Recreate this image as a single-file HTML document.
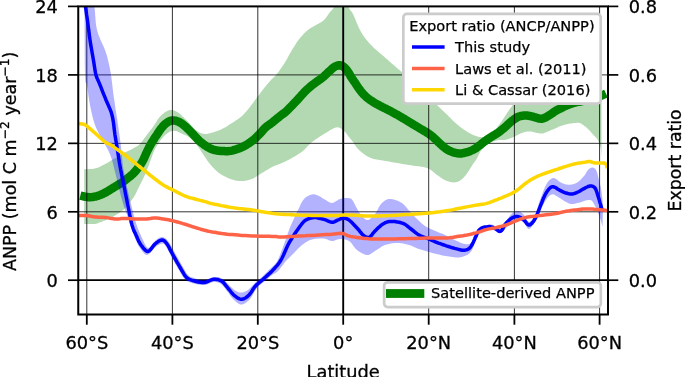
<!DOCTYPE html>
<html><head><meta charset="utf-8"><title>ANPP and export ratio by latitude</title>
<style>html,body{margin:0;padding:0;background:#fff;overflow:hidden}body{width:685px;height:377px;position:relative}</style></head>
<body>
<svg width="685" height="377" viewBox="0 0 685 377" style="display:block;position:absolute;left:0;top:0">
<defs><clipPath id="c"><rect x="78.25" y="6.4" width="529.75" height="308.1"/></clipPath></defs>
<rect width="685" height="377" fill="#fff"/>
<g clip-path="url(#c)">
<polygon points="84.2,169.3 85.8,169.2 87.4,169.2 89.1,169.1 90.7,169.1 92.1,169.0 93.5,168.8 94.7,168.6 95.7,168.3 96.7,168.1 97.6,167.7 98.5,167.4 99.4,167.0 100.4,166.6 101.3,166.1 102.3,165.6 103.3,165.1 104.2,164.5 105.2,164.0 106.2,163.5 107.1,162.9 108.0,162.4 109.0,161.8 110.0,161.2 111.0,160.6 112.1,160.0 113.2,159.3 114.4,158.6 115.6,157.9 116.8,157.2 118.0,156.5 119.2,155.8 120.3,155.2 121.4,154.5 122.6,153.8 123.8,153.2 125.0,152.5 126.3,151.8 127.6,151.2 129.0,150.5 130.4,149.9 131.7,149.2 133.0,148.5 134.2,147.8 135.3,147.2 136.5,146.6 137.6,145.9 138.7,145.0 139.8,144.0 141.0,142.8 142.1,141.3 143.3,139.8 144.5,138.1 145.7,136.5 146.8,135.0 147.9,133.5 149.1,132.1 150.2,130.6 151.3,129.2 152.4,127.8 153.4,126.3 154.4,124.8 155.4,123.2 156.4,121.7 157.3,120.2 158.2,118.8 159.2,117.5 160.2,116.4 161.1,115.4 162.1,114.5 163.1,113.7 164.0,113.0 165.0,112.3 166.0,111.7 167.0,111.1 167.9,110.7 168.9,110.3 169.9,110.0 170.9,109.9 171.9,109.9 172.8,110.1 173.8,110.4 174.8,110.7 175.7,111.2 176.7,111.7 177.7,112.3 178.7,113.0 179.7,113.8 180.6,114.6 181.6,115.5 182.6,116.4 183.6,117.3 184.5,118.2 185.5,119.2 186.5,120.2 187.4,121.2 188.4,122.2 189.4,123.3 190.3,124.4 191.3,125.5 192.3,126.6 193.2,127.7 194.2,128.6 195.2,129.4 196.2,130.2 197.2,131.0 198.1,131.6 199.1,132.2 200.0,132.7 200.8,133.1 201.6,133.4 202.4,133.6 203.1,133.7 203.9,133.8 204.7,133.9 205.5,133.9 206.2,134.0 206.9,133.9 207.7,133.8 208.7,133.6 210.0,133.3 211.6,132.8 213.6,132.2 215.7,131.5 217.9,130.7 220.0,129.9 222.0,129.0 223.8,128.1 225.5,127.2 227.1,126.2 228.7,125.1 230.4,124.1 232.0,123.0 233.7,121.9 235.4,120.8 237.1,119.7 238.8,118.5 240.4,117.3 242.0,116.0 243.5,114.6 244.9,113.1 246.2,111.6 247.5,110.0 248.7,108.5 250.0,106.9 251.2,105.3 252.4,103.8 253.6,102.2 254.7,100.6 255.8,99.1 257.0,97.5 258.2,95.9 259.3,94.4 260.5,92.8 261.7,91.2 262.8,89.7 264.0,88.2 265.2,86.7 266.4,85.3 267.6,83.8 268.8,82.5 269.9,81.2 271.0,80.0 271.9,79.1 272.7,78.3 273.4,77.7 274.2,77.0 275.0,76.1 276.0,75.0 277.2,73.5 278.4,71.9 279.8,70.1 281.2,68.1 282.6,66.1 284.0,64.0 285.3,61.8 286.7,59.5 288.0,57.1 289.3,54.6 290.7,52.3 292.0,50.0 293.3,47.8 294.7,45.7 296.0,43.6 297.3,41.6 298.7,39.7 300.0,38.0 301.3,36.4 302.7,34.9 304.0,33.6 305.3,32.3 306.7,31.1 308.0,30.0 309.3,29.0 310.7,28.1 312.0,27.3 313.3,26.6 314.7,25.8 316.0,25.0 317.4,24.2 318.7,23.4 320.1,22.7 321.5,21.9 322.8,21.0 324.0,20.0 325.1,18.8 326.2,17.4 327.2,16.0 328.2,14.6 329.1,13.2 330.0,12.0 330.8,11.1 331.5,10.4 332.1,9.8 332.7,9.1 333.4,8.2 334.0,7.0 334.7,5.3 335.3,3.2 335.9,0.9 336.6,-1.4 337.3,-3.4 338.0,-5.0 338.8,-6.1 339.6,-7.0 340.5,-7.6 341.4,-8.0 342.2,-8.1 343.0,-8.0 343.7,-7.6 344.5,-6.8 345.2,-5.8 345.9,-4.6 346.5,-3.3 347.0,-2.0 347.4,-0.5 347.7,1.2 348.0,3.0 348.3,4.8 348.6,6.5 349.0,8.0 349.5,9.1 350.1,10.0 350.8,10.8 351.4,11.6 352.2,12.6 353.0,14.0 353.9,15.9 354.9,18.2 355.9,20.8 356.9,23.3 358.0,25.8 359.0,28.0 360.0,29.9 360.9,31.7 361.9,33.3 362.9,34.9 363.9,36.4 365.0,38.0 366.2,39.6 367.5,41.1 368.9,42.7 370.3,44.2 371.6,45.6 373.0,47.0 374.3,48.3 375.7,49.5 377.0,50.6 378.3,51.7 379.7,52.9 381.0,54.0 382.3,55.2 383.7,56.3 385.0,57.5 386.3,58.7 387.7,59.8 389.0,61.0 390.4,62.2 391.7,63.4 393.1,64.6 394.5,65.8 395.8,66.9 397.0,68.0 398.0,68.9 398.9,69.6 399.8,70.2 400.6,70.9 401.7,71.8 403.0,73.0 404.7,74.6 406.6,76.6 408.6,78.7 410.8,80.9 412.9,83.0 415.0,85.0 417.0,86.8 419.1,88.5 421.1,90.1 423.1,91.7 425.1,93.4 427.0,95.0 428.8,96.7 430.5,98.3 432.1,100.0 433.7,101.7 435.3,103.3 437.0,105.0 438.7,106.7 440.6,108.4 442.4,110.2 444.2,111.9 445.9,113.5 447.4,115.0 448.8,116.4 450.0,117.6 451.1,118.8 452.2,119.9 453.3,120.9 454.4,122.0 455.6,123.0 456.7,124.1 457.9,125.0 459.1,126.0 460.2,126.9 461.4,127.8 462.6,128.7 463.7,129.5 464.9,130.3 466.1,131.1 467.2,131.8 468.4,132.5 469.6,133.2 470.8,133.8 472.0,134.4 473.2,134.9 474.4,135.4 475.4,135.8 476.3,136.1 477.1,136.4 477.8,136.6 478.5,136.8 479.2,136.9 480.0,137.0 480.9,137.1 481.9,137.2 482.9,137.3 483.9,137.3 485.0,137.2 486.0,137.0 487.0,136.7 488.0,136.2 489.0,135.7 490.0,135.0 491.0,134.3 492.0,133.5 492.9,132.6 493.9,131.6 494.8,130.5 495.7,129.3 496.6,128.1 497.5,126.9 498.5,125.6 499.5,124.2 500.5,122.8 501.5,121.4 502.5,120.0 503.4,118.7 504.2,117.5 505.0,116.3 505.8,115.1 506.5,113.9 507.2,112.8 508.0,111.7 508.8,110.6 509.6,109.4 510.4,108.3 511.2,107.3 512.0,106.2 512.7,105.3 513.2,104.5 513.5,103.8 513.8,103.1 514.2,102.5 514.8,101.8 516.0,101.0 517.5,100.1 519.3,99.3 521.3,98.4 523.8,97.4 526.6,96.3 530.0,95.0 533.9,93.6 538.4,92.0 543.3,90.2 548.6,88.5 554.1,86.7 560.0,85.0 566.3,83.3 573.0,81.7 580.0,80.0 587.2,78.3 594.5,76.7 601.5,75.0 601.5,158.0 601.4,156.6 601.4,155.3 601.3,153.9 601.2,152.5 601.1,151.2 601.0,150.0 600.8,148.9 600.6,147.8 600.4,146.8 600.1,145.9 599.8,144.9 599.5,144.0 599.2,143.1 598.8,142.2 598.5,141.4 598.1,140.5 597.7,139.7 597.2,139.0 596.7,138.3 596.2,137.7 595.6,137.2 595.0,136.6 594.4,136.0 593.7,135.3 593.0,134.5 592.2,133.6 591.4,132.7 590.6,131.7 589.8,130.8 589.0,130.0 588.2,129.2 587.5,128.5 586.7,127.8 585.9,127.1 585.2,126.5 584.4,125.9 583.6,125.3 582.8,124.7 582.1,124.2 581.3,123.7 580.5,123.3 579.7,123.0 578.9,122.8 578.2,122.7 577.5,122.8 576.7,122.8 575.9,122.9 575.0,123.0 574.0,123.1 572.8,123.2 571.6,123.4 570.4,123.6 569.2,123.8 568.0,124.0 566.8,124.3 565.7,124.5 564.5,124.8 563.3,125.2 562.2,125.5 561.0,125.9 559.8,126.3 558.6,126.8 557.5,127.4 556.3,127.9 555.1,128.4 554.0,128.9 552.9,129.4 551.8,129.8 550.8,130.3 549.7,130.8 548.7,131.2 547.7,131.6 546.7,132.0 545.7,132.4 544.8,132.8 543.8,133.2 542.9,133.4 541.9,133.6 540.9,133.6 539.9,133.5 539.0,133.3 538.0,133.1 537.0,132.9 536.0,132.7 535.0,132.5 534.1,132.3 533.1,132.0 532.1,131.8 531.2,131.6 530.2,131.5 529.2,131.5 528.3,131.5 527.3,131.6 526.3,131.7 525.4,131.9 524.4,132.1 523.4,132.4 522.4,132.7 521.5,133.2 520.5,133.6 519.5,134.1 518.5,134.5 517.5,135.0 516.6,135.5 515.7,136.0 514.7,136.5 513.7,136.9 512.7,137.4 511.6,137.8 510.5,138.3 509.4,138.7 508.2,139.1 506.9,139.4 505.7,139.7 504.4,139.9 503.0,140.0 501.6,140.0 500.2,140.0 498.8,140.1 497.5,140.3 496.3,140.6 495.2,140.9 494.1,141.2 493.0,141.6 492.0,142.1 491.0,142.5 490.1,142.9 489.2,143.4 488.3,143.9 487.5,144.4 486.7,145.0 486.0,145.5 485.3,146.0 484.7,146.6 484.0,147.2 483.5,147.7 482.9,148.3 482.4,148.9 481.9,149.4 481.5,149.9 481.2,150.4 480.8,151.0 480.4,151.6 480.0,152.4 479.5,153.3 478.9,154.4 478.4,155.6 477.8,156.8 477.2,158.0 476.6,159.0 476.1,159.8 475.6,160.5 475.1,161.2 474.5,161.9 473.9,162.8 473.0,164.0 471.9,165.7 470.7,167.7 469.3,169.9 467.8,172.2 466.4,174.3 465.0,176.0 463.7,177.4 462.4,178.7 461.1,179.8 459.8,180.7 458.4,181.5 457.0,182.0 455.4,182.3 453.8,182.4 452.1,182.2 450.4,182.0 448.7,181.5 447.0,181.0 445.3,180.3 443.7,179.4 442.0,178.4 440.3,177.3 438.7,176.1 437.0,175.0 435.4,173.8 434.0,172.6 432.5,171.3 430.9,170.1 429.1,168.9 427.0,168.0 424.5,167.3 421.7,166.7 418.6,166.3 415.4,165.9 412.2,165.5 409.0,165.0 405.8,164.5 402.4,163.9 399.0,163.3 395.6,162.8 392.2,162.2 389.0,161.6 385.8,161.1 382.6,160.6 379.5,160.1 376.5,159.5 373.6,158.9 371.0,158.0 368.6,156.9 366.3,155.7 364.2,154.3 362.3,152.8 360.6,151.4 359.0,150.0 357.6,148.6 356.5,147.2 355.5,145.8 354.6,144.4 353.8,143.2 353.0,142.0 352.2,141.0 351.6,140.2 351.0,139.4 350.4,138.7 349.8,137.9 349.0,137.0 348.1,135.9 347.2,134.7 346.2,133.3 345.1,132.1 344.1,130.9 343.0,130.0 341.9,129.2 340.9,128.5 339.9,127.9 338.7,127.4 337.5,127.3 336.0,127.4 334.3,128.0 332.4,128.9 330.3,130.0 328.2,131.4 326.1,132.7 324.0,134.0 322.0,135.3 319.9,136.6 317.8,137.9 315.7,139.3 313.8,140.7 312.0,142.0 310.4,143.4 308.9,144.9 307.5,146.3 306.2,147.7 305.1,149.0 304.0,150.0 303.1,150.8 302.5,151.3 302.0,151.7 301.5,152.0 300.9,152.4 300.0,153.0 298.9,153.7 297.7,154.5 296.4,155.4 295.0,156.3 293.5,157.1 292.0,158.0 290.4,158.8 288.8,159.7 287.1,160.6 285.4,161.4 283.7,162.2 282.0,163.0 280.3,163.7 278.7,164.3 277.0,164.9 275.3,165.6 273.7,166.2 272.0,167.0 270.3,167.9 268.7,168.9 267.0,169.9 265.3,170.9 263.7,172.0 262.0,173.0 260.3,174.0 258.7,175.1 257.0,176.2 255.3,177.3 253.7,178.2 252.0,179.0 250.3,179.6 248.7,180.1 247.0,180.5 245.3,180.7 243.7,180.9 242.0,181.0 240.3,181.0 238.7,180.9 237.0,180.7 235.3,180.4 233.7,180.1 232.0,179.6 230.3,179.0 228.5,178.3 226.8,177.5 225.0,176.6 223.4,175.8 222.0,175.0 220.8,174.3 219.7,173.6 218.8,172.9 217.9,172.1 217.0,171.4 216.0,170.5 215.0,169.6 214.0,168.6 213.0,167.6 212.0,166.5 211.0,165.3 209.9,164.0 208.8,162.5 207.6,160.9 206.5,159.2 205.3,157.4 204.1,155.7 203.0,154.0 201.9,152.4 200.8,150.7 199.7,149.0 198.6,147.4 197.5,145.9 196.4,144.5 195.3,143.2 194.2,142.0 193.0,140.8 191.9,139.8 190.9,138.8 190.0,138.0 189.2,137.3 188.5,136.9 187.9,136.5 187.3,136.1 186.7,135.8 186.0,135.5 185.3,135.1 184.5,134.8 183.7,134.5 183.0,134.2 182.2,133.8 181.4,133.5 180.6,133.1 179.8,132.7 179.1,132.3 178.3,131.9 177.5,131.6 176.7,131.3 175.9,131.1 175.1,130.9 174.3,130.8 173.6,130.8 172.8,130.8 172.0,130.9 171.2,131.1 170.5,131.4 169.7,131.8 168.9,132.3 168.2,132.8 167.4,133.3 166.6,133.9 165.8,134.4 165.1,135.1 164.3,135.8 163.5,136.6 162.7,137.4 161.9,138.4 161.1,139.4 160.3,140.6 159.5,141.8 158.7,142.9 158.0,144.0 157.4,145.0 156.8,145.9 156.2,146.8 155.6,147.7 155.1,148.8 154.5,150.0 153.9,151.4 153.2,153.1 152.6,154.8 152.0,156.6 151.3,158.3 150.7,160.0 150.1,161.6 149.5,163.2 148.9,164.8 148.4,166.3 147.8,167.8 147.2,169.3 146.6,170.7 146.1,172.1 145.5,173.4 145.0,174.7 144.4,176.1 143.7,177.5 143.0,179.0 142.2,180.5 141.4,182.1 140.6,183.7 139.8,185.3 139.0,186.9 138.2,188.5 137.5,190.1 136.8,191.6 136.0,193.2 135.2,194.7 134.4,196.2 133.5,197.6 132.5,199.0 131.4,200.4 130.4,201.7 129.5,202.9 128.6,204.0 127.9,204.9 127.3,205.8 126.8,206.5 126.2,207.2 125.7,207.8 125.0,208.5 124.2,209.2 123.4,209.8 122.6,210.5 121.7,211.1 120.8,211.7 120.0,212.3 119.2,212.9 118.3,213.4 117.5,214.0 116.7,214.5 115.8,215.0 115.0,215.5 114.2,216.0 113.3,216.5 112.5,217.0 111.7,217.4 110.8,217.9 110.0,218.3 109.2,218.7 108.3,219.1 107.5,219.5 106.7,219.8 105.8,220.2 105.0,220.5 104.2,220.8 103.3,221.1 102.5,221.4 101.7,221.7 100.8,222.0 100.0,222.3 99.2,222.6 98.5,222.9 97.9,223.3 97.1,223.6 96.2,223.8 95.0,224.0 93.5,224.1 91.8,224.1 90.0,224.1 88.0,224.1 86.1,224.0 84.2,224.0" fill="#008000" fill-opacity="0.3"/>
<line x1="78.25" x2="608.0" y1="6.4" y2="6.4" stroke="#000" stroke-width="0.8"/>
<line x1="78.25" x2="608.0" y1="74.9" y2="74.9" stroke="#000" stroke-width="0.8"/>
<line x1="78.25" x2="608.0" y1="143.35" y2="143.35" stroke="#000" stroke-width="0.8"/>
<line x1="78.25" x2="608.0" y1="211.8" y2="211.8" stroke="#000" stroke-width="0.8"/>
<polyline points="80.3,195.6 81.6,195.9 82.8,196.2 84.1,196.5 85.4,196.7 86.6,196.9 87.7,197.1 88.8,197.2 89.7,197.2 90.7,197.2 91.6,197.1 92.5,197.0 93.5,196.9 94.5,196.7 95.5,196.5 96.4,196.3 97.4,196.0 98.4,195.6 99.4,195.3 100.4,194.9 101.3,194.5 102.3,194.1 103.3,193.6 104.2,193.1 105.2,192.6 106.2,192.1 107.1,191.5 108.1,191.0 109.1,190.4 110.0,189.8 111.0,189.2 112.0,188.6 113.0,188.0 113.9,187.4 114.9,186.8 115.9,186.2 116.9,185.6 117.9,185.0 118.8,184.4 119.8,183.9 120.8,183.3 121.7,182.7 122.7,182.0 123.7,181.3 124.7,180.6 125.7,179.8 126.6,179.1 127.6,178.3 128.6,177.5 129.6,176.7 130.6,175.9 131.5,175.0 132.5,174.2 133.5,173.2 134.4,172.3 135.3,171.3 136.2,170.2 137.1,169.1 138.0,168.0 138.8,166.9 139.6,165.8 140.3,164.8 140.9,163.9 141.5,163.1 142.0,162.1 142.6,161.1 143.2,160.0 143.9,158.7 144.5,157.2 145.2,155.6 145.9,154.0 146.6,152.5 147.3,151.0 147.9,149.7 148.6,148.4 149.2,147.2 149.8,146.0 150.5,144.8 151.2,143.5 152.0,142.2 152.8,140.9 153.7,139.6 154.5,138.2 155.4,136.9 156.3,135.6 157.2,134.3 158.0,133.0 158.9,131.6 159.8,130.3 160.6,129.1 161.5,128.0 162.4,127.0 163.2,126.0 164.1,125.1 165.0,124.2 165.9,123.5 166.8,122.8 167.7,122.2 168.7,121.6 169.6,121.2 170.6,120.8 171.6,120.5 172.6,120.4 173.7,120.4 174.8,120.6 175.9,120.8 177.0,121.2 178.1,121.6 179.1,122.0 180.0,122.5 180.9,123.0 181.8,123.6 182.6,124.2 183.4,124.9 184.3,125.6 185.2,126.3 186.1,127.1 186.9,128.0 187.8,128.8 188.7,129.7 189.6,130.6 190.5,131.5 191.4,132.5 192.3,133.4 193.2,134.4 194.1,135.4 195.0,136.3 195.8,137.2 196.6,138.1 197.4,138.9 198.2,139.8 199.0,140.6 200.0,141.5 201.1,142.4 202.4,143.4 203.7,144.4 205.0,145.4 206.3,146.2 207.5,147.0 208.6,147.6 209.6,148.2 210.6,148.6 211.5,149.0 212.4,149.4 213.4,149.7 214.3,150.0 215.2,150.2 216.1,150.4 217.0,150.6 218.0,150.7 219.2,150.8 220.6,150.9 222.3,151.0 224.0,151.1 225.8,151.2 227.5,151.2 229.1,151.1 230.5,150.9 231.9,150.6 233.1,150.3 234.4,149.9 235.6,149.6 236.7,149.2 237.8,148.9 238.8,148.5 239.8,148.1 240.7,147.8 241.6,147.3 242.6,146.9 243.6,146.4 244.5,145.9 245.5,145.4 246.5,144.8 247.4,144.2 248.4,143.6 249.4,142.9 250.3,142.3 251.3,141.6 252.3,140.8 253.2,140.0 254.2,139.2 255.2,138.3 256.2,137.4 257.2,136.4 258.1,135.4 259.1,134.4 260.1,133.4 261.1,132.4 262.1,131.3 263.0,130.2 264.0,129.1 265.0,128.1 265.9,127.2 266.8,126.4 267.6,125.8 268.5,125.2 269.3,124.6 270.3,124.0 271.3,123.2 272.5,122.3 273.8,121.2 275.2,120.1 276.5,119.0 277.9,117.8 279.2,116.8 280.4,115.8 281.6,114.9 282.8,114.0 283.9,113.2 285.1,112.3 286.2,111.3 287.3,110.3 288.4,109.2 289.5,108.1 290.6,107.0 291.6,105.9 292.6,104.9 293.5,103.9 294.4,103.0 295.3,102.1 296.1,101.2 297.0,100.3 297.9,99.3 298.9,98.2 299.9,97.1 300.9,96.0 301.9,94.8 303.0,93.7 304.0,92.6 305.0,91.6 306.0,90.6 307.0,89.6 308.0,88.7 309.0,87.8 310.0,86.9 311.0,86.1 312.0,85.2 313.0,84.5 314.0,83.7 315.0,83.0 316.0,82.2 317.0,81.5 318.1,80.7 319.1,80.0 320.2,79.3 321.2,78.6 322.2,77.8 323.2,77.0 324.2,76.1 325.2,75.2 326.1,74.3 327.1,73.4 328.0,72.5 328.9,71.6 329.9,70.8 330.8,69.9 331.7,69.1 332.5,68.3 333.3,67.7 334.0,67.2 334.6,66.8 335.2,66.5 335.7,66.2 336.3,66.0 336.8,65.8 337.3,65.6 337.8,65.5 338.3,65.3 338.8,65.3 339.3,65.2 339.9,65.3 340.5,65.4 341.1,65.6 341.8,65.8 342.5,66.1 343.1,66.4 343.8,66.9 344.5,67.5 345.2,68.2 345.9,69.0 346.6,69.8 347.2,70.7 347.9,71.6 348.5,72.5 349.1,73.5 349.7,74.5 350.3,75.6 350.8,76.6 351.4,77.5 352.0,78.4 352.6,79.2 353.2,80.0 353.7,80.9 354.3,81.7 354.9,82.5 355.4,83.3 356.0,84.2 356.5,85.0 357.0,85.8 357.6,86.7 358.2,87.6 358.9,88.5 359.6,89.5 360.4,90.6 361.2,91.6 362.0,92.6 362.8,93.5 363.6,94.4 364.5,95.3 365.3,96.1 366.2,96.9 367.1,97.7 368.1,98.5 369.1,99.3 370.1,100.0 371.2,100.7 372.3,101.4 373.4,102.1 374.5,102.8 375.6,103.5 376.8,104.1 378.0,104.7 379.1,105.4 380.3,106.0 381.5,106.6 382.7,107.2 383.8,107.8 385.0,108.3 386.2,108.9 387.3,109.5 388.5,110.1 389.7,110.7 390.9,111.3 392.0,112.0 393.2,112.6 394.4,113.3 395.5,113.9 396.6,114.5 397.7,115.1 398.8,115.7 399.8,116.3 400.9,117.0 402.0,117.6 403.1,118.3 404.3,118.9 405.4,119.6 406.6,120.3 407.8,121.1 409.0,121.8 410.3,122.6 411.6,123.4 413.0,124.3 414.4,125.1 415.7,125.9 417.0,126.7 418.2,127.4 419.4,128.1 420.6,128.8 421.7,129.5 422.9,130.1 424.0,130.8 425.1,131.5 426.2,132.1 427.3,132.8 428.3,133.5 429.4,134.2 430.4,134.9 431.4,135.7 432.4,136.5 433.4,137.4 434.4,138.3 435.3,139.2 436.3,140.1 437.3,141.0 438.2,142.0 439.2,142.9 440.2,143.8 441.1,144.7 442.1,145.6 443.1,146.4 444.0,147.2 445.0,148.0 446.0,148.7 447.0,149.4 448.0,150.0 449.0,150.6 450.1,151.1 451.2,151.5 452.2,151.9 453.3,152.3 454.4,152.6 455.5,152.9 456.5,153.1 457.6,153.3 458.7,153.4 459.7,153.5 460.8,153.5 461.9,153.4 462.9,153.2 464.0,153.0 465.1,152.7 466.1,152.4 467.2,152.1 468.3,151.8 469.4,151.4 470.5,151.0 471.6,150.5 472.7,150.0 473.7,149.5 474.7,148.9 475.7,148.3 476.6,147.6 477.6,146.9 478.5,146.1 479.5,145.4 480.5,144.7 481.4,143.9 482.4,143.1 483.4,142.4 484.3,141.6 485.3,140.9 486.3,140.2 487.2,139.6 488.1,138.9 489.1,138.3 490.1,137.7 491.1,137.0 492.2,136.3 493.3,135.6 494.5,135.0 495.7,134.2 496.9,133.5 498.1,132.7 499.3,131.8 500.5,130.9 501.6,130.0 502.8,129.0 504.0,128.1 505.1,127.1 506.2,126.1 507.3,125.1 508.3,124.1 509.4,123.1 510.4,122.2 511.5,121.3 512.6,120.4 513.7,119.6 514.8,118.8 515.9,118.1 517.0,117.4 518.0,116.9 519.0,116.5 520.0,116.2 520.9,116.0 521.9,115.8 522.8,115.7 523.8,115.6 524.8,115.5 525.7,115.5 526.7,115.6 527.7,115.6 528.6,115.8 529.6,115.9 530.6,116.1 531.6,116.4 532.6,116.6 533.6,116.9 534.6,117.2 535.5,117.5 536.4,117.7 537.3,118.0 538.2,118.3 539.1,118.5 539.9,118.6 540.7,118.7 541.4,118.7 542.1,118.7 542.7,118.5 543.3,118.4 544.0,118.1 544.8,117.8 545.7,117.4 546.7,116.8 547.7,116.2 548.7,115.6 549.7,114.9 550.7,114.3 551.6,113.7 552.5,113.1 553.3,112.5 554.2,111.9 555.0,111.3 555.9,110.8 556.8,110.3 557.7,109.8 558.6,109.3 559.5,108.9 560.5,108.5 561.4,108.0 562.3,107.5 563.2,107.1 564.1,106.6 565.0,106.2 566.0,105.7 567.0,105.3 568.1,104.9 569.2,104.4 570.3,104.0 571.5,103.6 572.7,103.2 573.9,102.8 575.2,102.5 576.5,102.2 577.9,101.9 579.3,101.7 580.6,101.5 582.0,101.2 583.3,100.9 584.7,100.7 586.0,100.5 587.3,100.2 588.7,99.9 590.0,99.6 591.3,99.2 592.7,98.8 594.0,98.4 595.3,98.0 596.7,97.5 598.0,97.0 599.3,96.5 600.7,95.9 602.0,95.3 603.3,94.8 604.7,94.2 606.0,93.6" fill="none" stroke="#008000" stroke-width="8.5" stroke-linejoin="round"/>
<line x1="86.8" x2="86.8" y1="6.4" y2="314.5" stroke="#000" stroke-width="0.8"/>
<line x1="172.4" x2="172.4" y1="6.4" y2="314.5" stroke="#000" stroke-width="0.8"/>
<line x1="257.8" x2="257.8" y1="6.4" y2="314.5" stroke="#000" stroke-width="0.8"/>
<line x1="428.7" x2="428.7" y1="6.4" y2="314.5" stroke="#000" stroke-width="0.8"/>
<line x1="514.4" x2="514.4" y1="6.4" y2="314.5" stroke="#000" stroke-width="0.8"/>
<line x1="599.6" x2="599.6" y1="6.4" y2="314.5" stroke="#000" stroke-width="0.8"/>
<line x1="343.2" x2="343.2" y1="6.4" y2="314.5" stroke="#000" stroke-width="1.9"/>
<line x1="78.25" x2="608.0" y1="280.2" y2="280.2" stroke="#000" stroke-width="1.8"/>
<polygon points="84.5,-40.0 85.4,-38.6 86.4,-37.6 87.3,-36.6 88.2,-35.3 89.1,-33.2 90.0,-30.0 90.8,-25.3 91.6,-19.3 92.4,-12.6 93.1,-5.8 93.8,0.8 94.4,6.4 94.9,11.1 95.2,15.3 95.5,19.2 95.8,22.9 96.3,26.4 97.0,30.0 98.1,33.7 99.5,37.3 101.0,40.9 102.5,44.2 103.9,47.3 105.0,50.0 105.8,52.2 106.4,53.9 106.8,55.3 107.2,56.7 107.6,58.2 108.0,60.0 108.5,62.2 109.0,64.6 109.6,67.1 110.1,69.7 110.6,72.4 111.0,75.0 111.4,77.6 111.7,80.3 112.1,83.1 112.4,85.8 112.7,88.4 113.0,91.0 113.3,93.4 113.6,95.6 113.9,97.8 114.3,100.0 114.6,102.3 115.0,105.0 115.4,108.0 115.9,111.1 116.4,114.5 117.0,118.0 117.5,121.5 118.0,125.0 118.5,128.6 119.0,132.3 119.6,136.1 120.1,139.8 120.6,143.5 121.0,147.0 121.4,150.4 121.7,153.7 122.0,156.9 122.3,160.0 122.6,163.0 123.0,166.0 123.4,168.8 123.9,171.5 124.4,174.1 124.9,176.6 125.4,179.3 126.0,182.0 126.6,184.9 127.3,187.9 127.9,191.0 128.6,194.1 129.3,197.1 130.0,200.0 130.7,202.9 131.4,205.7 132.1,208.5 132.7,211.2 133.4,213.7 134.0,216.0 134.5,218.0 135.0,219.7 135.4,221.2 135.9,222.7 136.4,224.3 137.0,226.0 137.7,227.9 138.5,229.9 139.3,232.0 140.2,234.1 141.1,236.1 142.0,238.0 142.9,240.0 143.9,242.1 144.9,244.2 145.9,246.0 146.9,247.3 148.0,248.0 149.1,247.8 150.3,246.8 151.4,245.4 152.6,243.7 153.8,242.2 155.0,241.0 156.2,240.1 157.4,239.1 158.6,238.3 159.7,237.6 160.9,237.2 162.0,237.0 163.0,237.1 164.0,237.4 165.0,238.0 166.0,238.8 167.0,239.8 168.0,241.0 169.1,242.5 170.2,244.3 171.4,246.4 172.6,248.6 173.8,250.8 175.0,253.0 176.3,255.3 177.7,257.7 179.1,260.2 180.5,262.7 181.8,265.0 183.0,267.0 184.0,268.7 184.9,270.3 185.6,271.7 186.4,272.9 187.1,274.0 188.0,275.0 188.9,275.8 189.8,276.4 190.7,276.9 191.7,277.3 192.8,277.6 194.0,278.0 195.4,278.4 197.0,278.9 198.8,279.4 200.5,279.7 202.3,280.0 204.0,280.0 205.7,279.7 207.3,279.2 209.0,278.5 210.6,277.9 212.2,277.3 213.7,277.0 215.2,276.9 216.6,276.9 218.0,277.1 219.3,277.4 220.7,277.9 222.0,278.5 223.4,279.4 224.8,280.6 226.1,282.0 227.5,283.5 228.8,284.8 230.0,286.0 231.1,287.0 232.2,288.0 233.1,288.9 234.1,289.7 235.0,290.4 236.0,291.0 237.0,291.5 237.9,291.9 238.9,292.2 239.8,292.4 240.8,292.5 241.8,292.5 242.8,292.4 243.8,292.1 244.8,291.8 245.9,291.3 246.9,290.7 248.0,290.0 249.1,289.1 250.2,288.0 251.4,286.8 252.6,285.5 253.8,284.2 255.0,283.0 256.3,281.8 257.6,280.7 259.0,279.5 260.4,278.3 261.7,277.2 263.0,276.0 264.2,274.8 265.4,273.6 266.6,272.4 267.8,271.3 268.9,270.1 270.0,269.0 271.1,268.0 272.1,267.0 273.2,266.1 274.2,265.1 275.1,264.1 276.0,263.0 276.7,261.9 277.3,261.0 277.9,260.0 278.4,258.8 279.1,257.2 280.0,255.0 281.2,252.0 282.6,248.2 284.1,244.0 285.6,239.8 286.9,236.0 288.0,233.0 288.7,230.9 289.2,229.6 289.6,228.6 289.9,227.7 290.3,226.6 291.0,225.0 291.9,222.9 293.1,220.4 294.3,217.7 295.6,215.0 296.8,212.3 298.0,210.0 299.0,207.9 300.0,205.8 300.9,203.8 301.9,202.0 302.9,200.4 304.0,199.0 305.2,197.8 306.6,196.8 308.0,195.9 309.4,195.3 310.8,194.8 312.0,194.4 313.1,194.2 314.1,194.3 315.1,194.5 316.1,194.8 317.0,195.2 318.0,195.6 319.0,196.0 319.9,196.5 320.9,197.1 321.9,197.7 322.9,198.4 324.0,199.0 325.2,199.7 326.5,200.6 327.9,201.5 329.3,202.2 330.6,202.8 332.0,203.0 333.3,202.8 334.6,202.1 335.9,201.3 337.3,200.4 338.6,199.6 340.0,199.0 341.5,198.6 343.1,198.3 344.8,198.1 346.3,197.9 347.8,197.9 349.0,198.0 349.9,198.2 350.6,198.4 351.2,198.8 351.7,199.3 352.3,200.0 353.0,201.0 353.9,202.4 354.8,204.2 355.8,206.2 356.8,208.3 357.9,210.2 359.0,212.0 360.2,213.7 361.5,215.4 362.9,217.1 364.3,218.5 365.6,219.5 367.0,220.0 368.4,219.9 369.7,219.2 371.1,218.1 372.5,216.8 373.8,215.4 375.0,214.0 376.1,212.5 377.1,210.8 378.0,208.9 378.9,207.1 379.9,205.4 381.0,204.0 382.2,202.8 383.4,201.7 384.6,200.7 386.0,199.9 387.4,199.3 389.0,199.0 390.8,199.0 392.9,199.3 395.0,199.9 397.1,200.6 399.2,201.5 401.0,202.4 402.6,203.5 404.0,204.7 405.2,206.1 406.5,207.6 407.7,209.1 409.0,210.5 410.3,211.9 411.7,213.4 413.0,214.8 414.3,216.3 415.7,217.7 417.0,219.0 418.3,220.3 419.7,221.6 421.0,222.8 422.3,223.9 423.7,225.0 425.0,226.0 426.3,226.8 427.5,227.5 428.8,228.1 430.0,228.7 431.4,229.3 433.0,230.0 434.8,230.8 436.7,231.6 438.8,232.4 440.9,233.2 443.0,234.1 445.0,235.0 447.0,236.0 449.1,237.0 451.2,238.1 453.3,239.2 455.2,240.2 457.0,241.0 458.6,241.7 460.0,242.4 461.4,242.9 462.6,243.4 463.8,243.8 465.0,244.0 466.1,244.2 467.2,244.3 468.2,244.2 469.2,244.1 470.1,243.7 471.0,243.0 471.8,241.9 472.5,240.5 473.1,238.8 473.7,237.1 474.4,235.4 475.0,234.0 475.6,232.7 476.2,231.5 476.8,230.3 477.4,229.2 478.2,228.3 479.0,227.5 480.0,227.0 481.1,226.6 482.4,226.4 483.6,226.3 484.9,226.2 486.0,226.0 487.0,225.7 488.0,225.3 488.9,224.9 489.9,224.6 490.9,224.5 492.0,224.5 493.2,224.9 494.6,225.7 496.0,226.6 497.4,227.4 498.8,228.0 500.0,228.0 501.1,227.4 502.1,226.5 503.1,225.2 504.1,223.8 505.0,222.3 506.0,221.0 507.0,219.7 508.0,218.4 509.0,217.0 510.0,215.6 511.0,214.5 512.0,213.5 513.0,212.7 514.0,212.1 515.0,211.5 516.0,211.2 517.0,211.0 518.0,211.0 519.0,211.3 520.0,211.7 521.1,212.4 522.1,213.2 523.1,214.1 524.0,215.0 524.9,216.2 525.7,217.6 526.5,219.2 527.3,220.6 528.1,221.6 529.0,222.0 530.0,221.7 531.0,221.0 532.0,219.9 533.0,218.4 534.0,216.8 535.0,215.0 535.9,213.0 536.7,210.6 537.5,208.0 538.3,205.3 539.1,202.6 540.0,200.0 541.0,197.4 542.0,194.7 543.0,191.9 544.0,189.3 545.0,187.0 546.0,185.0 546.9,183.4 547.8,182.1 548.6,181.1 549.4,180.3 550.2,179.6 551.0,179.0 551.7,178.5 552.4,178.2 553.0,178.1 553.6,178.1 554.3,178.2 555.0,178.4 555.8,178.8 556.6,179.3 557.4,180.0 558.2,180.7 559.1,181.4 560.0,182.0 560.9,182.5 561.9,183.0 562.9,183.4 564.0,183.8 565.0,184.2 566.0,184.4 567.0,184.6 568.0,184.7 569.0,184.7 570.0,184.7 571.0,184.6 572.0,184.4 573.0,184.2 574.0,183.9 575.0,183.6 576.0,183.2 577.0,182.6 578.0,182.0 579.0,181.2 580.1,180.3 581.1,179.2 582.1,178.1 583.1,177.0 584.0,176.0 584.8,175.0 585.5,173.9 586.1,172.8 586.7,171.7 587.4,170.8 588.0,170.0 588.7,169.3 589.3,168.8 590.0,168.3 590.7,167.9 591.3,167.7 592.0,167.6 592.7,167.6 593.4,167.8 594.1,168.0 594.7,168.5 595.4,169.1 596.0,170.0 596.6,171.2 597.1,172.7 597.6,174.4 598.1,176.2 598.5,178.1 599.0,180.0 599.5,181.8 599.9,183.7 600.4,185.6 600.8,187.6 601.2,189.7 601.6,192.0 601.9,194.4 602.2,197.0 602.4,199.8 602.6,202.5 602.8,205.3 603.0,208.0 602.5,227.0 602.3,226.0 602.0,225.0 601.8,224.0 601.5,223.0 601.3,222.0 601.0,221.0 600.7,220.0 600.4,219.0 600.1,218.1 599.8,217.1 599.4,216.1 599.0,215.0 598.6,213.9 598.1,212.7 597.6,211.6 597.1,210.4 596.6,209.2 596.0,208.0 595.4,206.8 594.7,205.4 594.1,204.1 593.4,202.9 592.7,201.8 592.0,201.0 591.4,200.4 590.8,200.1 590.2,199.9 589.6,199.9 588.9,199.9 588.0,200.0 586.9,200.2 585.6,200.6 584.2,201.0 582.8,201.5 581.4,202.0 580.0,202.4 578.6,202.8 577.3,203.1 575.9,203.5 574.5,203.8 573.2,204.0 572.0,204.0 570.9,203.9 569.9,203.7 569.0,203.4 568.1,203.0 567.1,202.5 566.0,202.0 564.8,201.3 563.4,200.5 562.0,199.5 560.6,198.6 559.2,197.7 558.0,197.0 556.9,196.3 555.9,195.7 554.9,195.0 553.9,194.6 553.0,194.3 552.0,194.4 551.0,194.8 550.1,195.3 549.1,196.1 548.1,197.1 547.1,198.4 546.0,200.0 544.7,202.0 543.3,204.6 541.8,207.4 540.4,210.2 539.1,212.9 538.0,215.0 537.2,216.6 536.7,217.9 536.4,219.0 536.0,220.0 535.6,220.9 535.0,222.0 534.2,223.3 533.2,224.8 532.1,226.3 531.0,227.6 530.0,228.6 529.0,229.0 528.1,228.7 527.3,227.9 526.5,226.7 525.7,225.3 524.9,224.0 524.0,223.0 523.1,222.2 522.1,221.5 521.1,220.8 520.0,220.2 519.0,219.8 518.0,219.5 517.0,219.4 516.0,219.4 515.0,219.6 514.0,219.9 513.0,220.4 512.0,221.0 511.0,221.9 510.0,223.0 509.0,224.3 508.0,225.6 507.0,226.9 506.0,228.0 505.0,229.0 504.1,230.1 503.1,231.2 502.1,232.0 501.1,232.7 500.0,233.0 498.8,232.9 497.4,232.3 496.0,231.5 494.6,230.6 493.2,229.9 492.0,229.5 490.9,229.5 489.9,229.6 488.9,229.9 487.9,230.3 487.0,230.7 486.0,231.0 485.0,231.2 483.9,231.3 482.9,231.4 481.9,231.6 480.9,231.9 480.0,232.5 479.2,233.4 478.5,234.5 477.9,235.7 477.3,237.1 476.6,238.5 476.0,240.0 475.3,241.6 474.7,243.3 474.1,245.2 473.4,246.9 472.7,248.6 472.0,250.0 471.3,251.2 470.5,252.1 469.8,253.0 468.9,253.7 468.0,254.4 467.0,255.0 465.9,255.6 464.6,256.1 463.3,256.6 461.9,256.9 460.5,257.2 459.0,257.4 457.4,257.5 455.8,257.4 454.1,257.3 452.4,257.1 450.7,256.8 449.0,256.6 447.3,256.3 445.7,256.0 444.0,255.7 442.3,255.4 440.7,255.0 439.0,254.6 437.3,254.2 435.7,253.8 434.0,253.4 432.3,252.9 430.7,252.5 429.0,252.0 427.3,251.5 425.7,251.1 424.0,250.6 422.3,250.1 420.7,249.6 419.0,249.0 417.4,248.4 415.7,247.7 414.1,246.9 412.5,246.2 410.8,245.6 409.0,245.0 407.1,244.5 405.1,244.0 403.1,243.6 401.1,243.3 399.0,243.1 397.0,243.0 395.0,243.1 392.9,243.2 390.9,243.5 388.9,243.9 386.9,244.4 385.0,245.0 383.2,245.8 381.4,246.8 379.8,247.9 378.1,249.0 376.5,250.1 375.0,251.0 373.6,251.9 372.3,252.8 371.0,253.7 369.7,254.4 368.4,254.9 367.0,255.0 365.4,254.7 363.7,254.1 362.0,253.3 360.3,252.3 358.6,251.2 357.0,250.0 355.6,248.7 354.2,247.0 352.9,245.3 351.7,243.6 350.4,242.1 349.0,241.0 347.5,240.2 346.0,239.7 344.5,239.3 343.0,239.1 341.5,239.0 340.0,239.0 338.6,239.2 337.3,239.5 335.9,240.0 334.6,240.5 333.3,240.9 332.0,241.0 330.7,240.8 329.5,240.4 328.2,239.9 327.0,239.3 325.6,238.9 324.0,238.6 322.2,238.5 320.2,238.5 318.1,238.5 316.0,238.7 313.9,239.0 312.0,239.4 310.2,240.0 308.4,240.8 306.8,241.8 305.1,242.8 303.5,243.9 302.0,245.0 300.6,246.2 299.2,247.5 297.9,248.8 296.6,250.2 295.3,251.6 294.0,253.0 292.7,254.3 291.3,255.6 290.0,256.9 288.7,258.2 287.3,259.6 286.0,261.0 284.6,262.6 283.3,264.4 281.9,266.2 280.5,268.0 279.2,269.7 278.0,271.0 276.9,272.0 275.9,272.7 274.9,273.2 274.0,273.7 273.0,274.3 272.0,275.0 270.9,275.9 269.8,276.8 268.6,277.8 267.4,278.9 266.2,279.9 265.0,281.0 263.7,282.1 262.4,283.1 261.0,284.2 259.6,285.3 258.3,286.6 257.0,288.0 255.8,289.7 254.6,291.6 253.5,293.6 252.4,295.6 251.2,297.4 250.0,299.0 248.7,300.4 247.3,301.6 246.0,302.7 244.5,303.6 243.2,304.2 241.8,304.5 240.5,304.4 239.1,303.9 237.8,303.2 236.5,302.2 235.2,301.1 234.0,300.0 232.8,298.7 231.6,297.3 230.4,295.7 229.2,294.0 228.1,292.4 227.0,291.0 226.0,289.7 225.0,288.3 224.0,287.1 223.1,285.9 222.1,284.9 221.0,284.0 219.9,283.3 218.8,282.8 217.6,282.4 216.4,282.1 215.1,282.0 213.7,282.0 212.2,282.3 210.7,282.8 209.1,283.5 207.5,284.2 205.8,284.7 204.0,285.0 202.1,285.0 200.0,284.8 197.8,284.4 195.7,284.0 193.7,283.5 192.0,283.0 190.5,282.6 189.3,282.2 188.1,281.7 187.1,281.2 186.1,280.4 185.0,279.5 184.0,278.3 183.0,276.9 182.1,275.4 181.1,273.7 180.1,271.9 179.0,270.0 177.7,267.9 176.4,265.5 174.9,263.0 173.5,260.5 172.2,258.1 171.0,256.0 170.0,254.1 169.1,252.3 168.2,250.6 167.5,249.0 166.7,247.7 166.0,246.5 165.3,245.5 164.7,244.8 164.1,244.2 163.5,243.7 162.8,243.5 162.0,243.5 161.0,243.7 159.9,244.2 158.8,244.8 157.5,245.6 156.3,246.5 155.0,247.5 153.7,248.7 152.4,250.3 151.0,251.9 149.6,253.4 148.3,254.5 147.0,255.0 145.8,254.7 144.5,253.9 143.3,252.6 142.1,251.1 141.0,249.5 140.0,248.0 139.0,246.5 138.1,244.9 137.3,243.2 136.5,241.5 135.8,239.8 135.0,238.0 134.3,236.2 133.6,234.3 132.9,232.4 132.2,230.6 131.6,228.7 131.0,227.0 130.5,225.5 130.0,224.2 129.6,222.9 129.2,221.6 128.7,220.0 128.0,218.0 127.2,215.5 126.2,212.7 125.1,209.7 124.0,206.5 123.0,203.2 122.0,200.0 121.1,196.8 120.3,193.5 119.4,190.1 118.6,186.7 117.8,183.4 117.0,180.0 116.2,176.6 115.3,173.0 114.4,169.4 113.6,165.9 112.8,162.8 112.0,160.0 111.3,157.7 110.6,155.9 110.0,154.3 109.4,152.9 108.7,151.5 108.0,150.0 107.3,148.5 106.5,147.2 105.8,145.9 104.9,144.5 104.0,142.9 103.0,141.0 101.8,138.8 100.4,136.3 99.0,133.7 97.6,130.9 96.2,128.0 95.0,125.0 94.0,121.9 93.0,118.6 92.2,115.2 91.4,111.8 90.7,108.4 90.0,105.0 89.4,101.6 88.8,98.0 88.3,94.4 87.9,90.9 87.4,87.8 87.0,85.0 86.6,83.4 86.2,83.1 85.8,83.1 85.5,82.3 85.2,80.0 85.0,75.0 84.8,66.9 84.7,56.4 84.7,44.2 84.6,31.2 84.6,18.2 84.5,6.0" fill="#0000ff" fill-opacity="0.3"/>
<polyline points="84.5,-2.0 84.6,-0.7 84.8,0.6 84.9,1.9 85.0,3.2 85.2,4.7 85.4,6.4 85.7,8.3 86.0,10.3 86.3,12.5 86.6,14.8 87.0,17.3 87.4,20.0 87.8,23.0 88.2,26.2 88.6,29.6 89.1,33.1 89.5,36.6 90.0,40.0 90.5,43.4 91.1,46.9 91.7,50.3 92.3,53.7 92.9,57.0 93.4,60.0 93.9,62.9 94.3,65.6 94.7,68.2 95.1,70.7 95.5,72.9 96.0,75.0 96.5,76.7 97.0,78.0 97.5,79.1 98.0,80.2 98.6,81.6 99.4,83.4 100.3,85.7 101.4,88.4 102.5,91.3 103.7,94.3 104.9,97.2 106.0,100.0 107.1,102.5 108.2,104.9 109.2,107.3 110.2,109.7 111.2,112.2 112.0,115.0 112.7,118.1 113.3,121.6 113.8,125.2 114.2,128.7 114.6,132.1 115.0,135.0 115.4,137.4 115.7,139.3 116.0,141.1 116.3,142.8 116.6,144.7 117.0,147.0 117.4,149.8 117.9,152.8 118.4,156.0 118.9,159.3 119.4,162.7 120.0,166.0 120.6,169.3 121.3,172.6 121.9,175.9 122.6,179.3 123.3,182.7 124.0,186.0 124.7,189.3 125.3,192.7 126.0,196.1 126.7,199.4 127.3,202.7 128.0,206.0 128.7,209.3 129.3,212.7 130.0,216.1 130.7,219.4 131.3,222.4 132.0,225.0 132.7,227.2 133.3,229.0 133.9,230.6 134.6,232.0 135.3,233.4 136.0,235.0 136.8,236.7 137.5,238.5 138.3,240.2 139.1,241.9 140.0,243.5 141.0,245.0 142.1,246.4 143.2,247.9 144.4,249.3 145.6,250.4 146.8,251.2 148.0,251.4 149.2,250.9 150.3,249.8 151.5,248.4 152.7,246.7 153.8,245.2 155.0,244.0 156.2,243.0 157.4,242.1 158.6,241.3 159.8,240.6 160.9,240.2 162.0,240.0 162.9,240.1 163.8,240.5 164.6,241.1 165.3,241.9 166.1,242.8 167.0,244.0 167.9,245.4 168.9,247.0 169.8,248.9 170.8,250.9 171.9,252.9 173.0,255.0 174.2,257.2 175.6,259.7 177.0,262.2 178.5,264.6 179.8,267.0 181.0,269.0 182.0,270.8 183.0,272.4 183.8,273.8 184.6,275.1 185.5,276.3 186.4,277.3 187.4,278.1 188.3,278.8 189.2,279.3 190.3,279.7 191.4,280.1 192.8,280.5 194.4,281.0 196.2,281.5 198.2,282.0 200.2,282.3 202.2,282.6 204.0,282.6 205.7,282.3 207.4,281.7 209.0,281.0 210.6,280.2 212.2,279.6 213.7,279.3 215.2,279.3 216.6,279.4 218.0,279.6 219.3,280.1 220.6,280.6 221.8,281.3 223.0,282.2 224.1,283.3 225.1,284.6 226.1,285.9 227.2,287.2 228.2,288.5 229.3,289.7 230.3,291.0 231.3,292.3 232.4,293.6 233.5,294.7 234.6,295.7 235.8,296.6 236.9,297.5 238.1,298.2 239.4,298.8 240.6,299.2 241.8,299.3 243.0,299.1 244.2,298.6 245.4,297.9 246.7,297.1 247.8,296.1 249.0,295.0 250.1,293.8 251.2,292.3 252.2,290.7 253.2,289.0 254.3,287.4 255.5,286.0 256.7,284.7 258.0,283.6 259.3,282.4 260.7,281.3 262.1,280.2 263.5,278.9 265.0,277.5 266.6,276.1 268.2,274.6 269.9,273.1 271.5,271.6 273.0,270.0 274.4,268.5 275.8,266.9 277.2,265.4 278.5,263.7 279.7,262.0 281.0,260.0 282.2,257.7 283.4,255.2 284.6,252.5 285.8,249.8 286.9,247.3 288.0,245.0 289.0,243.0 290.0,241.3 291.0,239.7 292.0,238.1 293.0,236.6 294.0,235.0 295.1,233.3 296.3,231.5 297.6,229.7 298.8,228.0 299.9,226.4 301.0,225.0 301.9,223.8 302.7,222.9 303.4,222.0 304.2,221.3 305.0,220.6 306.0,220.0 307.1,219.4 308.4,218.9 309.7,218.4 311.1,218.0 312.5,217.7 314.0,217.6 315.6,217.6 317.3,217.8 319.0,218.2 320.7,218.6 322.4,219.0 324.0,219.4 325.5,219.9 326.9,220.5 328.2,221.1 329.6,221.7 330.8,222.1 332.0,222.3 333.1,222.2 334.2,221.9 335.2,221.4 336.1,220.9 337.1,220.4 338.0,220.0 338.9,219.6 339.7,219.2 340.5,218.8 341.3,218.5 342.1,218.3 343.0,218.2 343.9,218.2 344.9,218.3 345.8,218.5 346.8,218.8 347.9,219.3 349.0,220.0 350.2,221.0 351.6,222.3 353.0,223.7 354.4,225.2 355.8,226.7 357.0,228.0 358.1,229.2 359.1,230.4 360.0,231.6 360.9,232.7 361.7,233.7 362.5,234.5 363.2,235.1 363.8,235.6 364.4,236.0 364.9,236.3 365.3,236.6 365.8,236.8 366.2,237.0 366.6,237.2 367.0,237.3 367.3,237.4 367.6,237.4 368.0,237.4 368.3,237.4 368.7,237.4 369.0,237.4 369.4,237.3 369.8,237.0 370.3,236.6 370.9,236.0 371.6,235.1 372.3,234.2 373.1,233.1 374.0,232.1 375.0,231.0 376.1,229.9 377.4,228.6 378.8,227.3 380.2,226.1 381.6,224.9 383.0,224.0 384.3,223.3 385.5,222.6 386.8,222.1 388.0,221.8 389.4,221.5 391.0,221.4 392.8,221.4 394.9,221.6 397.0,221.9 399.1,222.3 401.2,222.8 403.0,223.4 404.6,224.1 406.0,225.0 407.2,226.0 408.5,227.0 409.7,228.0 411.0,229.0 412.3,230.0 413.6,231.0 414.9,232.1 416.2,233.1 417.6,234.1 419.0,235.0 420.6,235.8 422.3,236.5 424.0,237.2 425.8,237.8 427.4,238.4 429.0,239.0 430.4,239.6 431.6,240.2 432.7,240.7 433.9,241.2 435.2,241.8 436.7,242.4 438.4,243.1 440.3,243.7 442.3,244.5 444.4,245.2 446.4,245.9 448.4,246.5 450.4,247.1 452.5,247.8 454.6,248.4 456.6,248.9 458.5,249.4 460.0,249.8 461.2,250.1 462.1,250.2 462.8,250.3 463.4,250.3 464.0,250.3 464.7,250.2 465.5,250.1 466.3,249.9 467.1,249.6 467.9,249.3 468.7,248.8 469.4,248.3 470.1,247.6 470.7,246.8 471.3,245.9 471.8,245.0 472.4,244.0 472.9,243.0 473.4,242.0 473.9,240.9 474.4,239.8 474.9,238.7 475.3,237.6 475.8,236.6 476.3,235.6 476.7,234.5 477.2,233.5 477.7,232.5 478.2,231.6 478.7,230.8 479.2,230.1 479.8,229.5 480.4,229.0 481.0,228.5 481.6,228.1 482.2,227.8 482.8,227.5 483.4,227.4 484.0,227.2 484.7,227.1 485.3,227.1 486.0,227.0 486.7,226.9 487.4,226.8 488.1,226.7 488.9,226.6 489.6,226.6 490.4,226.7 491.2,226.9 491.9,227.1 492.7,227.3 493.5,227.7 494.3,228.0 495.1,228.4 495.9,228.9 496.7,229.5 497.5,230.2 498.3,230.8 499.0,231.2 499.7,231.4 500.3,231.3 500.8,231.1 501.3,230.7 501.8,230.2 502.3,229.6 502.7,229.0 503.1,228.4 503.3,227.7 503.6,227.0 503.9,226.2 504.4,225.4 505.0,224.5 505.9,223.5 507.0,222.3 508.3,221.1 509.6,219.9 510.8,218.8 512.0,218.0 513.1,217.4 514.1,217.0 515.1,216.7 516.0,216.5 517.0,216.5 518.0,216.6 519.0,216.9 520.0,217.3 521.1,217.9 522.1,218.6 523.1,219.3 524.0,220.0 524.9,220.9 525.7,222.0 526.5,223.1 527.3,224.1 528.1,224.8 529.0,225.0 530.0,224.7 531.0,224.0 532.0,223.1 533.0,221.9 534.0,220.5 535.0,219.0 535.9,217.3 536.7,215.4 537.6,213.4 538.4,211.2 539.2,209.1 540.0,207.0 540.8,204.9 541.7,202.8 542.5,200.7 543.3,198.6 544.2,196.7 545.0,195.0 545.8,193.5 546.7,192.1 547.6,190.8 548.4,189.7 549.2,188.8 550.0,188.0 550.7,187.4 551.3,187.1 551.9,186.8 552.6,186.8 553.2,186.8 554.0,187.0 554.9,187.3 555.9,187.8 556.9,188.5 557.9,189.2 559.0,189.8 560.0,190.4 561.0,190.9 562.0,191.4 563.0,191.9 564.0,192.3 565.0,192.7 566.0,193.0 567.0,193.3 568.0,193.6 569.0,193.8 570.0,193.9 571.0,194.0 572.0,194.0 573.0,193.9 574.0,193.6 575.0,193.3 576.0,192.9 577.0,192.4 578.0,192.0 579.0,191.5 580.0,190.9 581.0,190.3 582.0,189.7 583.0,189.1 584.0,188.6 585.0,188.1 586.0,187.5 587.1,187.0 588.1,186.5 589.1,186.2 590.0,186.0 590.9,186.0 591.8,186.1 592.7,186.3 593.5,186.7 594.3,187.3 595.0,188.0 595.6,189.0 596.1,190.1 596.6,191.5 597.1,193.0 597.5,194.5 598.0,196.0 598.5,197.6 599.1,199.4 599.6,201.2 600.1,203.0 600.6,204.6 601.0,206.0 601.3,207.1 601.6,208.0 601.8,208.8 602.1,209.5 602.3,210.2 602.5,211.0" fill="none" stroke="#0000ff" stroke-width="3.5" stroke-linejoin="round"/>
<polyline points="70.0,215.6 71.5,215.6 73.0,215.6 74.6,215.6 76.1,215.6 77.6,215.6 79.0,215.6 80.4,215.6 81.7,215.5 83.1,215.5 84.4,215.5 85.7,215.5 87.0,215.6 88.3,215.8 89.6,216.0 90.9,216.3 92.2,216.6 93.6,216.8 95.0,217.0 96.6,217.1 98.2,217.2 99.9,217.2 101.6,217.2 103.3,217.3 105.0,217.4 106.7,217.6 108.3,217.9 110.0,218.3 111.7,218.6 113.3,218.8 115.0,219.0 116.7,219.0 118.3,218.9 120.0,218.8 121.7,218.6 123.3,218.5 125.0,218.4 126.7,218.4 128.3,218.5 130.0,218.7 131.7,218.8 133.3,218.9 135.0,219.0 136.7,219.0 138.3,219.1 140.0,219.1 141.7,219.1 143.3,219.1 145.0,219.0 146.7,218.9 148.5,218.7 150.2,218.5 151.9,218.2 153.5,218.1 155.0,218.0 156.3,218.0 157.3,218.1 158.3,218.2 159.3,218.3 160.4,218.5 161.7,218.7 163.2,218.9 164.8,219.2 166.6,219.5 168.4,219.8 170.3,220.2 172.2,220.6 174.2,221.1 176.3,221.7 178.5,222.3 180.7,222.9 182.9,223.6 185.0,224.2 187.0,224.8 189.0,225.5 190.9,226.1 192.8,226.8 194.8,227.4 196.7,228.0 198.7,228.6 200.6,229.2 202.6,229.7 204.5,230.2 206.5,230.7 208.4,231.2 210.3,231.6 212.3,232.0 214.2,232.3 216.1,232.6 218.0,232.9 220.0,233.2 221.9,233.5 223.7,233.7 225.5,233.9 227.4,234.2 229.5,234.4 232.0,234.6 234.9,234.8 238.1,235.1 241.5,235.4 245.0,235.6 248.6,235.8 252.0,236.0 255.4,236.1 259.0,236.2 262.6,236.2 266.1,236.3 269.2,236.3 272.0,236.4 274.2,236.5 276.1,236.6 277.6,236.8 279.0,236.9 280.4,237.0 282.0,237.0 283.6,237.0 285.0,236.9 286.4,236.8 287.9,236.7 289.8,236.5 292.0,236.4 294.8,236.3 297.9,236.1 301.4,235.9 305.0,235.8 308.6,235.6 312.0,235.4 315.4,235.2 319.0,235.0 322.6,234.8 326.1,234.6 329.2,234.4 332.0,234.2 334.3,234.0 336.2,233.8 337.8,233.6 339.3,233.4 340.6,233.3 342.0,233.4 343.3,233.6 344.4,234.0 345.4,234.5 346.4,235.1 347.6,235.6 349.0,236.0 350.7,236.4 352.6,236.7 354.7,237.1 356.8,237.4 358.9,237.7 361.0,238.0 363.0,238.2 364.9,238.4 366.8,238.6 368.7,238.8 370.8,238.9 373.0,239.0 375.4,239.1 377.9,239.1 380.5,239.1 383.2,239.1 386.1,239.0 389.0,239.0 392.1,239.0 395.4,238.9 398.8,238.8 402.2,238.8 405.6,238.7 409.0,238.6 412.4,238.5 415.8,238.4 419.2,238.3 422.6,238.2 425.9,238.1 429.0,238.0 431.9,238.0 434.8,238.0 437.5,238.1 440.1,238.1 442.6,238.1 445.0,238.0 447.2,237.9 449.3,237.7 451.2,237.4 453.1,237.2 455.0,236.9 457.0,236.6 459.0,236.3 461.1,236.0 463.1,235.7 465.1,235.3 467.1,235.0 469.0,234.6 470.8,234.2 472.6,233.8 474.3,233.3 476.0,232.9 477.5,232.4 479.0,232.0 480.3,231.6 481.4,231.2 482.5,230.8 483.6,230.4 484.7,230.0 486.0,229.6 487.5,229.3 489.1,228.9 490.8,228.6 492.6,228.3 494.3,228.0 496.0,227.6 497.7,227.2 499.3,226.8 501.0,226.4 502.7,226.0 504.3,225.5 506.0,225.0 507.7,224.4 509.3,223.7 511.0,223.0 512.7,222.2 514.3,221.5 516.0,220.8 517.7,220.2 519.3,219.5 521.0,218.9 522.7,218.4 524.3,217.8 526.0,217.4 527.7,217.0 529.3,216.8 531.0,216.6 532.7,216.4 534.3,216.2 536.0,216.0 537.7,215.8 539.3,215.6 541.0,215.4 542.7,215.2 544.3,215.0 546.0,214.8 547.7,214.6 549.3,214.4 551.0,214.2 552.7,214.0 554.3,213.8 556.0,213.5 557.7,213.2 559.3,212.8 561.0,212.4 562.7,212.0 564.3,211.6 566.0,211.3 567.7,211.0 569.3,210.8 571.0,210.5 572.7,210.3 574.3,210.1 576.0,209.9 577.7,209.7 579.3,209.5 581.0,209.3 582.7,209.1 584.3,209.0 586.0,208.9 587.7,208.9 589.3,208.9 590.9,209.0 592.6,209.1 594.3,209.3 596.0,209.4 597.8,209.5 599.8,209.7 601.8,209.9 603.7,210.1 605.5,210.3 607.0,210.4 608.2,210.5 609.1,210.5 609.9,210.5 610.6,210.6 611.2,210.6 612.0,210.6" fill="none" stroke="#ff6347" stroke-width="3.5" stroke-linejoin="round"/>
<polyline points="74.0,123.8 74.7,123.8 75.3,123.8 76.0,123.8 76.6,123.8 77.3,123.8 78.0,123.8 78.7,123.8 79.5,123.8 80.3,123.8 81.1,123.9 81.9,123.9 82.5,124.0 83.0,124.1 83.5,124.2 83.8,124.3 84.2,124.4 84.6,124.6 85.0,124.8 85.4,125.0 85.8,125.3 86.2,125.6 86.7,125.9 87.3,126.4 88.0,127.0 88.9,127.7 89.9,128.6 91.1,129.6 92.3,130.6 93.6,131.8 95.0,133.0 96.5,134.4 98.3,136.0 100.1,137.7 101.9,139.3 103.5,140.8 105.0,142.0 106.2,142.8 107.3,143.4 108.2,143.8 109.1,144.1 110.0,144.5 111.0,145.0 112.1,145.7 113.3,146.5 114.4,147.4 115.6,148.3 116.8,149.1 118.0,150.0 119.1,150.8 120.2,151.6 121.3,152.3 122.4,153.1 123.7,154.0 125.0,155.0 126.5,156.2 128.1,157.4 129.8,158.8 131.6,160.2 133.3,161.6 135.0,163.0 136.7,164.3 138.3,165.7 140.0,167.0 141.7,168.3 143.3,169.7 145.0,171.0 146.7,172.3 148.3,173.7 150.0,175.1 151.7,176.4 153.3,177.7 155.0,179.0 156.7,180.2 158.3,181.5 160.0,182.7 161.7,183.9 163.3,185.0 165.0,186.0 166.7,186.9 168.3,187.8 170.0,188.6 171.7,189.4 173.3,190.2 175.0,191.0 176.7,191.9 178.3,192.7 180.0,193.6 181.7,194.5 183.3,195.3 185.0,196.0 186.7,196.6 188.3,197.2 190.0,197.7 191.7,198.1 193.3,198.5 195.0,199.0 196.7,199.5 198.4,199.9 200.2,200.4 201.9,200.8 203.5,201.2 205.0,201.6 206.2,201.9 207.1,202.2 207.9,202.5 208.8,202.8 210.1,203.2 212.0,203.6 214.6,204.2 217.7,204.8 221.2,205.6 224.9,206.3 228.5,207.0 232.0,207.6 235.3,208.1 238.7,208.5 242.0,208.8 245.3,209.2 248.7,209.6 252.0,210.0 255.3,210.5 258.7,211.1 262.0,211.7 265.3,212.3 268.7,212.8 272.0,213.3 275.3,213.7 278.7,214.0 282.0,214.2 285.3,214.4 288.7,214.6 292.0,214.8 295.3,215.0 298.7,215.1 302.0,215.2 305.3,215.3 308.7,215.3 312.0,215.4 315.4,215.5 318.8,215.5 322.2,215.6 325.6,215.6 328.8,215.6 332.0,215.6 335.0,215.5 337.8,215.4 340.5,215.2 343.2,215.1 346.0,215.0 349.0,215.0 352.2,215.1 355.4,215.3 358.8,215.5 362.2,215.7 365.6,215.9 369.0,216.0 372.3,216.0 375.7,216.0 379.0,215.9 382.3,215.8 385.7,215.7 389.0,215.6 392.3,215.4 395.7,215.3 399.0,215.1 402.3,214.8 405.7,214.6 409.0,214.4 412.4,214.2 415.8,214.0 419.2,213.8 422.6,213.5 425.9,213.3 429.0,213.0 431.9,212.7 434.6,212.4 437.2,212.1 439.8,211.8 442.4,211.4 445.0,211.0 447.7,210.6 450.3,210.1 453.0,209.6 455.7,209.0 458.3,208.5 461.0,208.0 463.7,207.5 466.6,206.9 469.4,206.4 472.2,205.9 474.7,205.4 477.0,205.0 478.9,204.7 480.5,204.5 481.9,204.3 483.2,204.2 484.5,203.9 486.0,203.6 487.6,203.1 489.3,202.6 490.9,202.0 492.6,201.3 494.3,200.6 496.0,200.0 497.7,199.4 499.3,198.7 501.0,198.1 502.7,197.4 504.3,196.7 506.0,196.0 507.7,195.3 509.3,194.5 511.0,193.8 512.7,192.9 514.3,192.0 516.0,191.0 517.7,189.8 519.3,188.5 521.0,187.1 522.7,185.6 524.3,184.3 526.0,183.0 527.7,181.9 529.3,180.8 531.0,179.8 532.7,178.8 534.3,177.9 536.0,177.0 537.7,176.2 539.3,175.5 541.0,174.8 542.7,174.2 544.3,173.6 546.0,173.0 547.7,172.4 549.3,171.8 551.0,171.2 552.7,170.7 554.3,170.1 556.0,169.6 557.7,169.1 559.3,168.5 561.0,168.0 562.7,167.4 564.3,166.9 566.0,166.4 567.7,165.9 569.3,165.4 571.0,164.9 572.7,164.4 574.3,164.0 576.0,163.6 577.7,163.2 579.6,162.9 581.4,162.7 583.1,162.4 584.7,162.2 586.0,162.0 587.0,161.8 587.7,161.7 588.3,161.6 588.8,161.6 589.3,161.5 590.0,161.6 590.8,161.7 591.6,162.0 592.4,162.3 593.3,162.6 594.2,162.8 595.0,163.0 595.8,163.1 596.7,163.1 597.5,163.1 598.3,163.0 599.2,163.0 600.0,163.0 600.9,163.0 601.8,162.9 602.7,162.9 603.5,162.9 604.3,163.0 605.0,163.3 605.6,163.8 606.0,164.5 606.4,165.4 606.7,166.3 607.0,167.2 607.4,168.0" fill="none" stroke="#ffd700" stroke-width="3.5" stroke-linejoin="round"/>
</g>
<line x1="86.8" x2="86.8" y1="314.5" y2="324.7" stroke="#000" stroke-width="1.8"/>
<line x1="172.4" x2="172.4" y1="314.5" y2="324.7" stroke="#000" stroke-width="1.8"/>
<line x1="257.8" x2="257.8" y1="314.5" y2="324.7" stroke="#000" stroke-width="1.8"/>
<line x1="343.2" x2="343.2" y1="314.5" y2="324.7" stroke="#000" stroke-width="1.8"/>
<line x1="428.7" x2="428.7" y1="314.5" y2="324.7" stroke="#000" stroke-width="1.8"/>
<line x1="514.4" x2="514.4" y1="314.5" y2="324.7" stroke="#000" stroke-width="1.8"/>
<line x1="599.6" x2="599.6" y1="314.5" y2="324.7" stroke="#000" stroke-width="1.8"/>
<line x1="68" x2="78.25" y1="6.4" y2="6.4" stroke="#000" stroke-width="1.7"/>
<line x1="608.0" x2="618.3" y1="6.4" y2="6.4" stroke="#000" stroke-width="1.7"/>
<line x1="68" x2="78.25" y1="74.9" y2="74.9" stroke="#000" stroke-width="1.7"/>
<line x1="608.0" x2="618.3" y1="74.9" y2="74.9" stroke="#000" stroke-width="1.7"/>
<line x1="68" x2="78.25" y1="143.35" y2="143.35" stroke="#000" stroke-width="1.7"/>
<line x1="608.0" x2="618.3" y1="143.35" y2="143.35" stroke="#000" stroke-width="1.7"/>
<line x1="68" x2="78.25" y1="211.8" y2="211.8" stroke="#000" stroke-width="1.7"/>
<line x1="608.0" x2="618.3" y1="211.8" y2="211.8" stroke="#000" stroke-width="1.7"/>
<line x1="68" x2="78.25" y1="280.2" y2="280.2" stroke="#000" stroke-width="1.7"/>
<line x1="608.0" x2="618.3" y1="280.2" y2="280.2" stroke="#000" stroke-width="1.7"/>
<rect x="78.25" y="6.4" width="529.75" height="308.1" fill="none" stroke="#000" stroke-width="2"/>
<rect x="403.35" y="13.85" width="197.35" height="89.8" rx="3.5" ry="3.5" fill="#fff" stroke="#ccc" stroke-width="2.7"/>
<rect x="384.15" y="282.3" width="216.65" height="24.8" rx="3.5" ry="3.5" fill="#fff" stroke="#ccc" stroke-width="2.7"/>
<g font-family="DejaVu Sans, Liberation Sans, sans-serif" font-size="14.6" fill="#000" stroke="#000" stroke-width="0.25">
<text x="409.2" y="31">Export ratio (ANCP/ANPP)</text>
<line x1="412" x2="444.6" y1="47" y2="47" stroke="#0000ff" stroke-width="3.5"/>
<text x="455.1" y="52.2">This study</text>
<line x1="412" x2="444.6" y1="68.4" y2="68.4" stroke="#ff6347" stroke-width="3.5"/>
<text x="455.1" y="73.60000000000001">Laws et al. (2011)</text>
<line x1="412" x2="444.6" y1="89.7" y2="89.7" stroke="#ffd700" stroke-width="3.5"/>
<text x="455.1" y="94.9">Li &amp; Cassar (2016)</text>
<rect x="386" y="289.1" width="38.3" height="8.8" fill="#008000" stroke="none"/>
<text x="431.1" y="297.9">Satellite-derived ANPP</text>
</g>
<g font-family="DejaVu Sans, Liberation Sans, sans-serif" font-size="17.8" fill="#000" stroke="#000" stroke-width="0.3">
<text x="57.9" y="13.3" text-anchor="end">24</text>
<text x="57.9" y="81.8" text-anchor="end">18</text>
<text x="57.9" y="150.2" text-anchor="end">12</text>
<text x="57.9" y="218.7" text-anchor="end">6</text>
<text x="57.9" y="287.1" text-anchor="end">0</text>
<text x="628.8" y="13.3">0.8</text>
<text x="628.8" y="81.8">0.6</text>
<text x="628.8" y="150.2">0.4</text>
<text x="628.8" y="218.7">0.2</text>
<text x="628.8" y="287.1">0.0</text>
<text x="86.8" y="348.5" text-anchor="middle">60°S</text>
<text x="172.4" y="348.5" text-anchor="middle">40°S</text>
<text x="257.8" y="348.5" text-anchor="middle">20°S</text>
<text x="343.2" y="348.5" text-anchor="middle">0°</text>
<text x="428.7" y="348.5" text-anchor="middle">20°N</text>
<text x="514.4" y="348.5" text-anchor="middle">40°N</text>
<text x="599.6" y="348.5" text-anchor="middle">60°N</text>
<text x="343.2" y="377.8" text-anchor="middle">Latitude</text>
<text transform="translate(15.9,161.3) rotate(-90) scale(0.985,1)" text-anchor="middle">ANPP (mol C m<tspan font-size="12.5" dy="-6.8">−2</tspan><tspan dy="6.8"> year</tspan><tspan font-size="12.5" dy="-6.8">−1</tspan><tspan dy="6.8">)</tspan></text>
<text transform="translate(681.3,160.4) rotate(-90) scale(0.975,1)" text-anchor="middle">Export ratio</text>
</g>
</svg>
</body></html>
